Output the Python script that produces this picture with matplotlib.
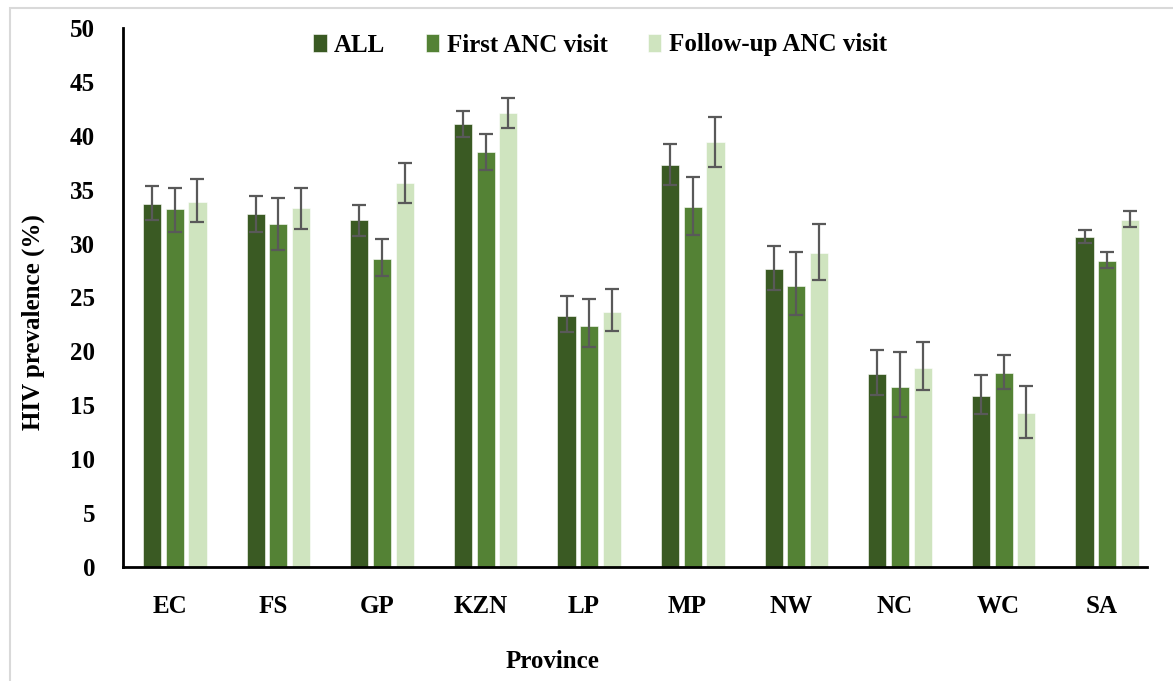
import matplotlib.pyplot as plt
import matplotlib.patches as mpatches
import numpy as np

# Datos
provincias = ['EC', 'FS', 'GP', 'KZN', 'LP', 'MP', 'NW', 'NC', 'WC', 'SA']
series = ['ALL', 'First ANC visit', 'Follow-up ANC visit']
colores = ['#3A5A23', '#548235', '#CFE4BF']

todos = [33.7, 32.7, 32.2, 41.1, 23.3, 37.3, 27.6, 17.9, 15.9, 30.6]
todos_inf = [32.2, 31.1, 30.7, 39.9, 21.8, 35.4, 25.7, 16.0, 14.2, 30.1]
todos_sup = [35.3, 34.4, 33.6, 42.3, 25.1, 39.2, 29.8, 20.1, 17.8, 31.3]

primera = [33.2, 31.8, 28.6, 38.5, 22.4, 33.4, 26.1, 16.7, 18.0, 28.4]
primera_inf = [31.1, 29.4, 27.0, 36.8, 20.4, 30.8, 23.4, 13.9, 16.5, 27.7]
primera_sup = [35.2, 34.2, 30.4, 40.2, 24.9, 36.2, 29.2, 19.9, 19.7, 29.2]

seguimiento = [33.9, 33.3, 35.6, 42.1, 23.7, 39.4, 29.1, 18.5, 14.3, 32.2]
seguimiento_inf = [32.0, 31.4, 33.8, 40.7, 21.9, 37.1, 26.6, 16.4, 12.0, 31.5]
seguimiento_sup = [36.0, 35.2, 37.5, 43.5, 25.8, 41.7, 31.8, 20.9, 16.8, 33.0]

valores = [todos, primera, seguimiento]
inferiores = [todos_inf, primera_inf, seguimiento_inf]
superiores = [todos_sup, primera_sup, seguimiento_sup]

plt.rcParams['font.family'] = ['Liberation Serif', 'DejaVu Serif']
plt.rcParams['font.weight'] = 'bold'

fig = plt.figure(figsize=(11.73, 6.81), dpi=100)
ax = fig.add_axes([123 / 1173, 1 - 567 / 681, 1036 / 1173, 539 / 681])

# Marco gris alrededor de la figura
marco = mpatches.Rectangle((10 / 1173, -0.05), 1.2, 1 - 8 / 681 + 0.05,
                           transform=fig.transFigure, fill=False,
                           edgecolor='#D9D9D9', linewidth=1.5, zorder=0)
fig.patches.append(marco)

x = np.arange(len(provincias))
ancho = 0.174
paso = 0.219

for i in range(3):
    v = np.array(valores[i])
    err = [v - np.array(inferiores[i]), np.array(superiores[i]) - v]
    ax.bar(x + (i - 1) * paso, v, ancho, color=colores[i], label=series[i],
           edgecolor='white', linewidth=0.4,
           yerr=err, capsize=5,
           error_kw=dict(ecolor='#595959', elinewidth=1.6, capthick=1.6))

ax.set_xlim(-0.5, 9.5)
ax.set_ylim(0, 50)
ax.set_yticks(range(0, 51, 5))
ax.set_xticks(x - 0.05)
ax.set_xticklabels(provincias)
ax.tick_params(axis='both', length=0, labelsize=18)
ax.tick_params(axis='y', pad=20)
ax.tick_params(axis='x', pad=20)

for lado in ['top', 'right']:
    ax.spines[lado].set_visible(False)
ax.spines['left'].set_linewidth(2)
ax.spines['bottom'].set_linewidth(2)
ax.spines['bottom'].set_bounds(-0.5, 9.38)

# Titulos de ejes
fig.text(33 / 1173, 1 - 322 / 681, 'HIV prevalence (%)', rotation=90,
         ha='center', va='center', fontsize=18, fontweight='bold')
fig.text(553 / 1173, 1 - 662 / 681, 'Province',
         ha='center', va='center', fontsize=18, fontweight='bold')

# Leyenda
ax.legend(loc='center', bbox_to_anchor=(600 / 1173, 1 - 45 / 681),
          bbox_transform=fig.transFigure, ncol=3, frameon=False,
          fontsize=18, handlelength=0.55, handleheight=0.75,
          handletextpad=0.3, columnspacing=1.6)

fig.savefig('out.png', dpi=100)
